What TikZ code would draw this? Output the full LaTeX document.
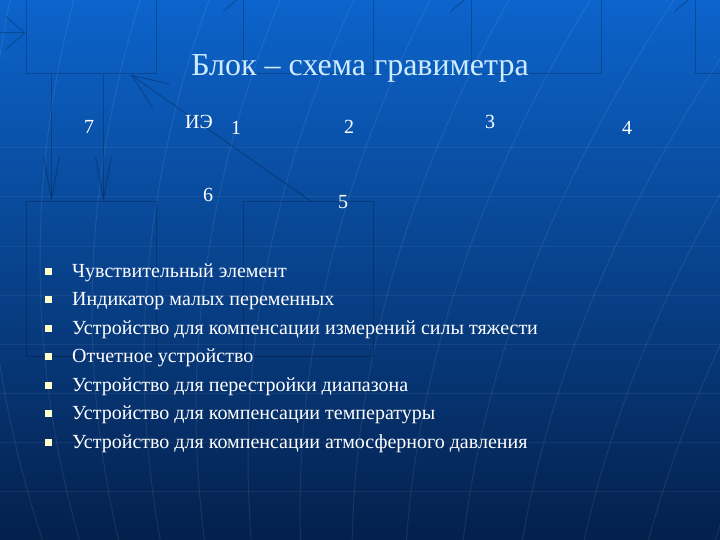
\documentclass[tikz,border=0pt]{standalone}
\usepackage{fontspec}
\setmainfont{Liberation Serif}
\usetikzlibrary{arrows.meta}

\definecolor{bgtop}{RGB}{12,100,204}
\definecolor{bgmid}{RGB}{10,74,162}
\definecolor{bgbot}{RGB}{4,32,76}
\definecolor{titlecol}{RGB}{206,236,255}
\definecolor{bulletcol}{RGB}{255,255,204}

\tikzset{
  blockbox/.style={draw=black, draw opacity=0.22, line width=1pt, minimum width=130pt, minimum height=154pt, inner sep=0pt},
  connector/.style={draw=black, draw opacity=0.22, line width=1pt},
  hbarb/.style={connector, -{Straight Barb[length=19pt, width=33pt]}},
  vbarb/.style={connector, -{Straight Barb[length=42pt, width=16pt]}},
  dbarb/.style={connector, -{Straight Barb[length=36pt, width=29pt]}},
  gridline/.style={white, opacity=0.06, line width=1pt},
  meridian/.style={white, opacity=0.08, line width=1pt},
  titletext/.style={anchor=base, inner sep=0pt, text=titlecol, font=\fontsize{32}{38}\selectfont},
  numlabel/.style={inner sep=0pt, text=white, font=\fontsize{20}{24}\selectfont},
  itemtext/.style={anchor=base west, inner sep=0pt, text=white, font=\fontsize{20}{24}\selectfont},
  bulletbox/.style={fill=bulletcol, minimum size=7pt, inner sep=0pt}
}

\begin{document}
\begin{tikzpicture}[x={(1pt, 0pt)}, y={(0pt, -1pt)}]
  \useasboundingbox (0, 0) rectangle (720, 540);
  \clip (0, 0) rectangle (720, 540);
  \shade[top color=bgtop, middle color=bgmid, bottom color=bgbot] (0, 0) rectangle (720, 540);

  \foreach \y in {148, 197, ..., 491} {
    \draw[gridline] (0, \y) to (720, \y);
  }
  \foreach \k in {-1, 0, ..., 13} {
    \pgfmathsetmacro{\tx}{40 + 52*\k}
    \pgfmathsetmacro{\ty}{260 + 50*\k}
    \draw[meridian] plot[variable=\t, domain=0:540, samples=25]
      ({\tx + ((\t - \ty)/44.72)*((\t - \ty)/44.72)}, \t);
  }

  \foreach \n/\x/\y in {t1/91/-3, t2/308.5/-3, t3/536/-3, t4/760/-3,
                        s1/91/279, s2/308.5/279} {
    \node[blockbox] (\n) at (\x, \y) {};
  }

  \coordinate (in) at (0, 33);
  \coordinate (ty) at (0, -5);
  \draw[hbarb] (in) to (t1.west |- in);
  \draw[hbarb] (t1.east |- ty) to (t2.west |- ty);
  \draw[hbarb] (t2.east |- ty) to (t3.west |- ty);
  \draw[hbarb] (t3.east |- ty) to (t4.west |- ty);
  \draw[vbarb] ([xshift=26pt]t1.south west) to ([xshift=26pt]s1.north west);
  \draw[vbarb] ([xshift=78pt]t1.south west) to ([xshift=78pt]s1.north west);
  \draw[dbarb] ([xshift=68pt]s2.north west) to ([xshift=105pt]t1.south west);

  \node[titletext] (title) at (360, 76) {Блок – схема гравиметра};

  \foreach \d/\x/\y in {7/89/127, 1/236/128, 2/349/127, 3/490/122,
                        4/627/128, 6/208/195, 5/343/202} {
    \node[numlabel] (n\d) at (\x, \y) {\d};
  }
  \node[numlabel] (ie) at (199, 122) {ИЭ};

  \foreach \n/\t in {0/Чувствительный элемент,
                     1/Индикатор малых переменных,
                     2/Устройство для компенсации измерений силы тяжести,
                     3/Отчетное устройство,
                     4/Устройство для перестройки диапазона,
                     5/Устройство для компенсации температуры,
                     6/Устройство для компенсации атмосферного давления} {
    \node[bulletbox] (m\n) at (48, 271 + 28.5*\n) {};
    \node[itemtext] (i\n) at (72, 277 + 28.5*\n) {\t};
  }
\end{tikzpicture}
\end{document}
